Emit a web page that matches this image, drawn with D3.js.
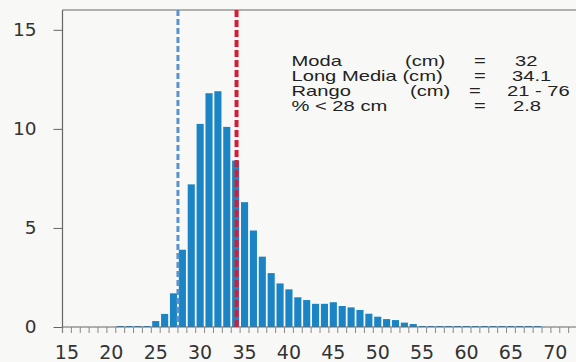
<!DOCTYPE html>
<html>
<head>
<meta charset="utf-8">
<script src="https://cdn.jsdelivr.net/npm/d3@7"></script>
<style>
    body { margin: 0; background: #f8f8f6; }
    #data-viz { width: 576px; height: 362px; overflow: hidden; }
</style>
</head>
<body>
<div id="data-viz"></div>
<script>

// talla (cm) por clase de 1 cm
const lengths = [15,16,17,18,19,20,21,22,23,24,25,26,27,28,29,30,31,32,33,34,35,36,37,38,39,40,41,42,43,
                 44,45,46,47,48,49,50,51,52,53,54,55,56,57,58,59,60,61,62,63,64,65,66,67,68,69,70,71,72]

// frecuencia (%)
const frequency = [0,0,0,0,0,0,0.05,0.05,0.05,0.05,0.3,0.66,1.7,3.9,7.2,10.25,11.8,11.9,10.1,8.4,6.3,4.87,3.55,2.72,2.2,1.9,1.5,1.36,1.17,
                   1.17,1.25,1.06,0.99,0.86,0.67,0.52,0.4,0.35,0.22,0.15,0.05,0.05,0.05,0.05,0.05,0.05,0.05,0.05,0.05,0.05,0.05,0.05,0.05,0.05,0,0,0,0]

const xTicks = [15,20,25,30,35,40,45,50,55,60,65,70]

const yTicks = [0,5,10,15]

// lineas de referencia: talla minima (28 cm) y longitud media
const refLines = [ { value: 27.5, colour: "#5a93cc", width: 3, dash: "6,3" },
                   { value: 34.1, colour: "#d21f35", width: 4, dash: "7,3" } ]

const statLabels = ["Moda", "Long Media (cm)", "Rango", "% < 28 cm"]
const statUnits = ["(cm)", "", "(cm)", ""]
const statValues = ["32", "34.1", "21 - 76", "2.8"]

class Histogram {

    constructor() {

        var self = this

        this.width = 576

        this.height = 362

        this.margin = { top: 10, right: 0, bottom: 35, left: 62.5 }

        this.step = 8.88

        this.x = d3.scaleBand()
                    .domain(lengths)
                    .range([self.margin.left, self.margin.left + lengths.length * self.step])
                    .paddingInner(0.2)
                    .paddingOuter(0.1)

        this.xValue = d3.scaleLinear()
                    .domain([lengths[0] - 0.5, lengths[lengths.length - 1] + 0.5])
                    .range(self.x.range())

        this.y = d3.scaleLinear()
                    .domain([0, 16])
                    .range([self.height - self.margin.bottom, self.margin.top])

        this.create()

    }

    create() {

        var self = this

        this.svg = d3.select("#data-viz").append("svg")
                        .attr("width", self.width)
                        .attr("height", self.height)

        this.drawBars()

        this.drawAxes()

        this.drawLines()

        this.drawStats()

    }

    drawBars() {

        var self = this

        self.svg.append("g")
            .selectAll("rect")
            .data(lengths)
            .join("rect")
            .attr("x", d => self.x(d))
            .attr("width", self.x.bandwidth())
            .attr("y", (d, i) => self.y(frequency[i]))
            .attr("height", (d, i) => self.y(0) - self.y(frequency[i]))
            .attr("fill", "#1b84c4")

    }

    drawAxes() {

        var self = this

        var axisColour = "#666"

        var x0 = self.margin.left, x1 = self.width, y0 = self.y(0), yTop = self.y(16)

        // marco: arriba, izquierda, abajo
        self.svg.append("line").attr("x1", x0).attr("x2", x1).attr("y1", yTop).attr("y2", yTop)
            .attr("stroke", axisColour).attr("stroke-width", 1.2)

        self.svg.append("line").attr("x1", x0).attr("x2", x0).attr("y1", yTop).attr("y2", y0 + 6)
            .attr("stroke", axisColour).attr("stroke-width", 1.2)

        self.svg.append("line").attr("x1", x0).attr("x2", x1).attr("y1", y0).attr("y2", y0)
            .attr("stroke", axisColour).attr("stroke-width", 1.2)

        // marcas entre clases
        var bounds = lengths.map(d => self.xValue(d - 0.5))

        self.svg.append("g")
            .selectAll("line")
            .data(bounds)
            .join("line")
            .attr("x1", d => d).attr("x2", d => d)
            .attr("y1", y0).attr("y2", y0 + 6)
            .attr("stroke", "#888")
            .attr("stroke-width", 1)

        self.svg.append("g")
            .selectAll("text")
            .data(xTicks)
            .join("text")
            .attr("x", d => self.x(d) + self.x.bandwidth() / 2)
            .attr("y", 359)
            .attr("text-anchor", "middle")
            .attr("font-family", "DejaVu Sans")
            .attr("font-size", 19)
            .attr("fill", "#333")
            .text(d => d)

        var yAxis = d3.axisLeft(self.y)
                    .tickValues(yTicks)
                    .tickSize(9)
                    .tickPadding(17)

        var g = self.svg.append("g")
            .attr("transform", `translate(${x0},0)`)
            .call(yAxis)

        g.select(".domain").remove()

        g.selectAll(".tick line").attr("stroke", axisColour)

        g.selectAll(".tick text")
            .attr("font-family", "DejaVu Sans")
            .attr("font-size", 18.5)
            .attr("fill", "#333")

    }

    drawLines() {

        var self = this

        self.svg.append("g")
            .selectAll("line")
            .data(refLines)
            .join("line")
            .attr("x1", d => self.xValue(d.value))
            .attr("x2", d => self.xValue(d.value))
            .attr("y1", self.y(16))
            .attr("y2", self.y(0))
            .attr("stroke", d => d.colour)
            .attr("stroke-width", d => d.width)
            .attr("stroke-dasharray", d => d.dash)

    }

    drawStats() {

        var self = this

        var rows = [66, 81, 96, 111]

        var unitX = [405, 0, 410, 0]

        var valueX = [515, 512, 507, 513]

        var put = (x, y, txt) => {

            self.svg.append("text")
                .attr("transform", `translate(${x},${y}) scale(1.44,1)`)
                .attr("font-family", "Liberation Sans")
                .attr("font-size", 14)
                .attr("fill", "#222")
                .text(txt)

        }

        statLabels.forEach(function(d, i) {

            put(291.5, rows[i], d)

            if (statUnits[i] != "") put(unitX[i], rows[i], statUnits[i])

            put(i == 2 ? 469 : 474, rows[i], "=")

            put(valueX[i], rows[i], statValues[i])

        })

    }

}

new Histogram()

</script>
</body>
</html>
